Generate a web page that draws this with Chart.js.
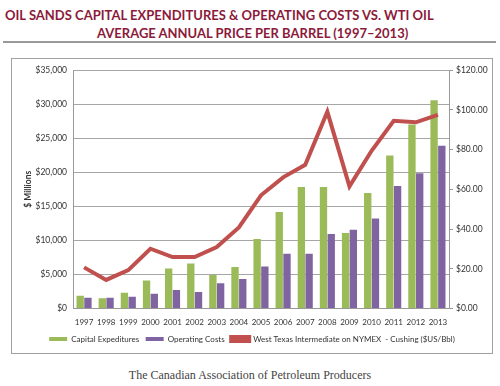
<!DOCTYPE html>
<html>
<head>
<meta charset="utf-8">
<script src="https://cdn.jsdelivr.net/npm/chart.js@4.4.1/dist/chart.umd.min.js"></script>
<style>
  body { margin: 0; width: 500px; height: 386px; background: #fff; position: relative; overflow: hidden; font-family: Lato, "Open Sans", sans-serif; }
  .title { position: absolute; color: #8b1a3a; font-weight: bold; font-size: 13px; white-space: nowrap; }
  #t1 { left: 5px; top: 7px; }
  #t2 { left: 97px; top: 25px; }
  #rule { position: absolute; left: 3px; top: 41px; width: 493px; height: 0; border-top: 2px solid #9a9a9a; }
  #box { position: absolute; left: 11px; top: 58px; width: 480px; height: 294px; border: 1px solid #a0a0a0; }
  #footer { position: absolute; left: 0; width: 500px; top: 368px; text-align: center; font-family: "Liberation Serif", "DejaVu Serif", serif; font-size: 12px; color: #444; }
</style>
</head>
<body>
<div class="title" id="t1">OIL SANDS CAPITAL EXPENDITURES &amp; OPERATING COSTS VS. WTI OIL</div>
<div class="title" id="t2">AVERAGE ANNUAL PRICE PER BARREL (1997–2013)</div>
<div id="rule"></div>
<div id="box"><canvas id="chart" width="480" height="294"></canvas></div>
<div id="footer">The Canadian Association of Petroleum Producers</div>
<script>
// Oil sands spending ($ millions) and WTI price ($US/bbl)
const years = ['1997', '1998', '1999', '2000', '2001', '2002', '2003', '2004', '2005',
  '2006', '2007', '2008', '2009', '2010', '2011', '2012', '2013'];
const capitalExpenditures = [1880, 1490, 2310, 4100, 5880, 6600, 4920, 6080, 10220,
  14170, 17840, 17840, 11090, 16970, 22460, 27000, 30560];
const operatingCosts = [1590, 1590, 1740, 2170, 2700, 2410, 3710, 4340, 6170,
  8050, 8050, 10950, 11570, 13210, 17980, 19860, 23910];
const wtiPrice = [20.7, 14.4, 19.3, 30.1, 25.9, 25.9, 30.9, 40.8, 57.0,
  66.0, 72.3, 99.0, 61.5, 79.4, 94.5, 93.7, 97.5];

const fontFamily = 'Lato, "Open Sans", sans-serif';
const tickFont = { family: fontFamily, size: 8.5 };

new Chart(document.getElementById('chart'), {
  type: 'bar',
  data: {
    labels: years,
    datasets: [{
      label: 'Capital Expeditures',
      data: capitalExpenditures,
      backgroundColor: '#9bbb59',
      yAxisID: 'y',
      categoryPercentage: 0.7,
      barPercentage: 0.95,
      order: 1
    }, {
      label: 'Operating Costs',
      data: operatingCosts,
      backgroundColor: '#8064a2',
      yAxisID: 'y',
      categoryPercentage: 0.7,
      barPercentage: 0.95,
      order: 1
    }, {
      type: 'line',
      label: 'West Texas Intermediate on NYMEX  - Cushing ($US/Bbl)',
      data: wtiPrice,
      borderColor: '#c0504d',
      backgroundColor: '#c0504d',
      borderWidth: 4,
      pointRadius: 0,
      tension: 0,
      yAxisID: 'y1',
      order: 0
    }]
  },
  options: {
    responsive: false,
    animation: false,
    layout: { padding: { top: -2, left: 0, right: 0, bottom: 0 } },
    plugins: {
      legend: {
        position: 'bottom',
        labels: {
          boxWidth: 18,
          boxHeight: 4,
          padding: 6.5,
          color: '#333',
          font: { family: fontFamily, size: 8 },
          sort: (a, b) => a.datasetIndex - b.datasetIndex
        }
      },
      tooltip: { enabled: false }
    },
    scales: {
      x: {
        grid: { display: false },
        border: { color: '#999' },
        ticks: { color: '#333', font: { family: fontFamily, size: 8 }, padding: 1, maxRotation: 0, autoSkip: false },
        afterFit: s => { s.height = 20; }
      },
      y: {
        position: 'left',
        min: 0,
        max: 35000,
        ticks: {
          stepSize: 5000,
          color: '#333',
          font: tickFont,
          padding: 6,
          callback: v => '$' + v.toLocaleString('en-US')
        },
        grid: { color: '#a6a6a6', drawTicks: false },
        border: { color: '#999' },
        title: {
          display: true,
          text: '$ Millions',
          color: '#333',
          font: { family: fontFamily, size: 8.5, weight: 'bold' },
          padding: { top: 11, bottom: 0 }
        },
        afterFit: s => { s.width = 61; }
      },
      y1: {
        position: 'right',
        min: 0,
        max: 120,
        ticks: {
          stepSize: 20,
          color: '#333',
          font: tickFont,
          padding: 3,
          callback: v => '$' + v.toFixed(2)
        },
        grid: { drawOnChartArea: false, tickLength: 4, color: '#999' },
        border: { color: '#999' },
        afterFit: s => { s.width = 43; }
      }
    }
  }
});
</script>
</body>
</html>
